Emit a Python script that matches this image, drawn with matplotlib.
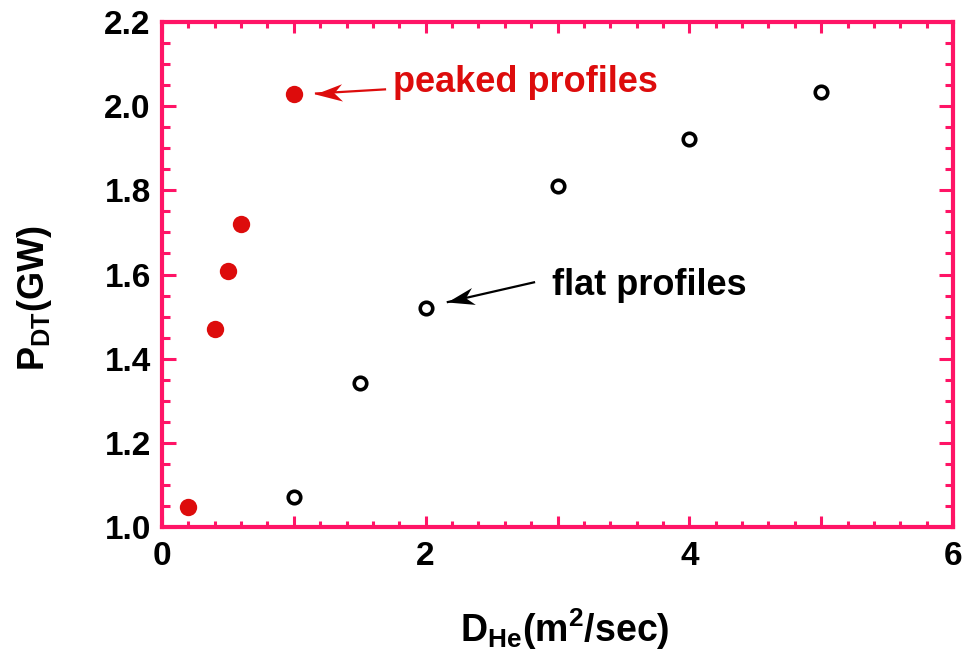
import numpy as np
import matplotlib
matplotlib.use("Agg")
import matplotlib.pyplot as plt
from matplotlib.ticker import MultipleLocator
from matplotlib.markers import MarkerStyle
from matplotlib.path import Path
from matplotlib.transforms import Affine2D

# helium diffusivity scan, fusion power
d_peaked = [0.2, 0.4, 0.5, 0.6, 1.0]
p_peaked = [1.048, 1.470, 1.608, 1.720, 2.030]
d_flat = [1.0, 1.5, 2.0, 3.0, 4.0, 5.0]
p_flat = [1.071, 1.342, 1.520, 1.810, 1.922, 2.034]

# annotation arrows: (tail, tip)
peaked_arrow = ((1.70, 2.040), (1.16, 2.030))
flat_arrow = ((2.83, 1.582), (2.16, 1.534))

frame = "#ff1466"
red = "#dd0c0c"

plt.rcParams['font.family'] = ['Liberation Sans', 'DejaVu Sans']
plt.rcParams['font.weight'] = 'bold'
plt.rcParams['mathtext.fontset'] = 'custom'
plt.rcParams['mathtext.rm'] = 'Liberation Sans:bold'
plt.rcParams['mathtext.bf'] = 'Liberation Sans:bold'
plt.rcParams['mathtext.it'] = 'Liberation Sans:bold'

fig = plt.figure(figsize=(9.78, 6.56), dpi=100)
ax = fig.add_axes([0.1656, 0.1966, 0.8089, 0.7699])

ax.plot(d_peaked, p_peaked, 'o', color=red, markersize=12.5, markeredgewidth=0)
ax.plot(d_flat, p_flat, 'o', markerfacecolor='white', markeredgecolor='black',
        markersize=9, markeredgewidth=2.6)

ax.set_xlim(0, 6)
ax.set_ylim(1.0, 2.2)
ax.xaxis.set_minor_locator(MultipleLocator(0.2))
ax.yaxis.set_minor_locator(MultipleLocator(0.05))
ax.set_xticks([0, 1, 2, 3, 4, 5, 6])
ax.set_xticklabels(['0', '', '2', '', '4', '', '6'])
yt = np.arange(1.0, 2.21, 0.2)
ax.set_yticks(yt)
ax.set_yticklabels([f"{v:.1f}" for v in yt])

for s in ax.spines.values():
    s.set_color(frame)
    s.set_linewidth(3.0)
ax.tick_params(which='both', direction='in', top=True, right=True,
               color=frame, width=2.2, labelsize=24, labelcolor='black')
ax.tick_params(axis='x', which='major', length=8, pad=10)
ax.tick_params(axis='x', which='minor', length=4.5)
ax.tick_params(axis='y', which='major', length=10, pad=8)
ax.tick_params(axis='y', which='minor', length=6)

fig.text(565 / 978, 14 / 656, r'$\mathbf{D_{He}(m^{2}/sec)}$', fontsize=27,
         ha='center', va='baseline')
fig.text(34 / 978, 1 - 298 / 656, r'$\mathbf{P_{DT}(GW)}$', fontsize=26,
         rotation=90, ha='center', va='center')


def stealth_arrow(tail, tip, color):
    # straight shaft plus a notched, filled head turned along the shaft
    p0 = ax.transData.transform(tail)
    p1 = ax.transData.transform(tip)
    ang = np.degrees(np.arctan2(p1[1] - p0[1], p1[0] - p0[0]))
    head = Path([(0, 0), (-1, 0.32), (-0.7, 0), (-1, -0.32), (0, 0)],
                [Path.MOVETO, Path.LINETO, Path.LINETO, Path.LINETO, Path.CLOSEPOLY])
    m = MarkerStyle(head, transform=Affine2D().rotate_deg(ang))
    ax.plot([tail[0], tip[0]], [tail[1], tip[1]], color=color, lw=1.6,
            solid_capstyle='butt')
    ax.plot([tip[0]], [tip[1]], linestyle='none', marker=m, markersize=39,
            color=color, markeredgewidth=0)


stealth_arrow(*peaked_arrow, red)
ax.text(1.753, 2.034, 'peaked profiles', color=red, fontsize=26,
        fontweight='bold', va='baseline', ha='left')

stealth_arrow(*flat_arrow, 'black')
ax.text(2.959, 1.551, 'flat profiles', color='black', fontsize=26,
        fontweight='bold', va='baseline', ha='left')

fig.savefig('out.png', dpi=100)
